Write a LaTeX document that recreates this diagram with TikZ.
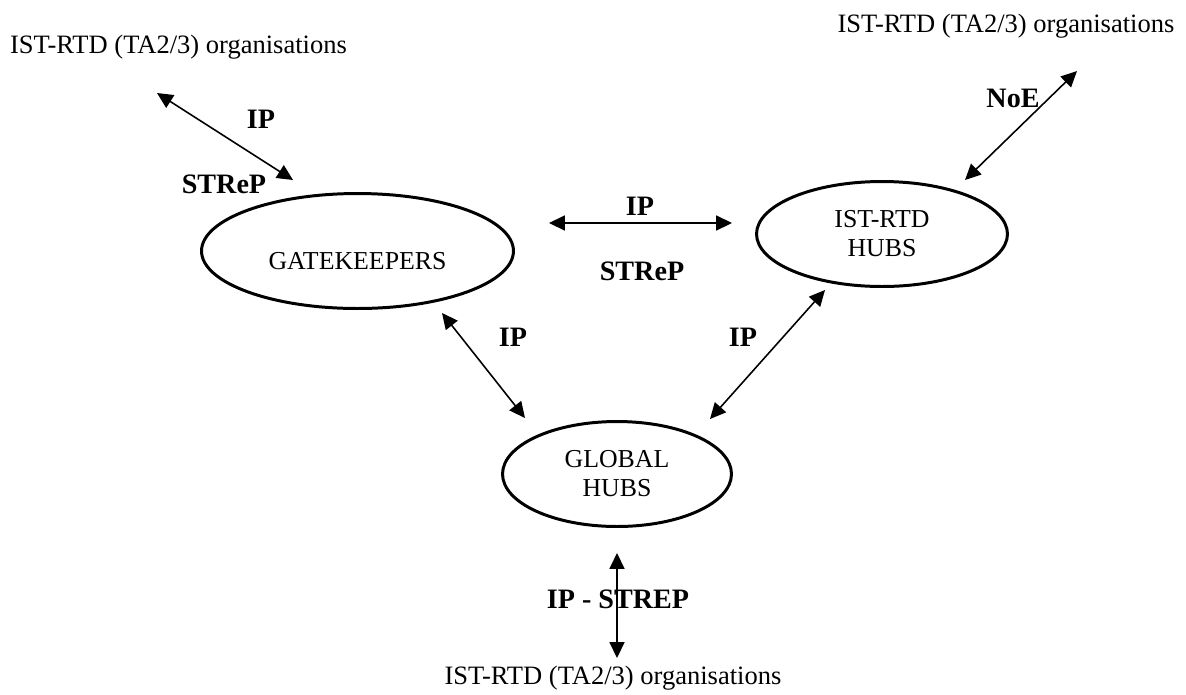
\documentclass[tikz,border=0pt]{standalone}
\usepackage{fontspec}
\setmainfont{Liberation Serif}
\usetikzlibrary{arrows.meta,shapes.geometric}

\begin{document}
\begin{tikzpicture}[x=0.02cm,y=-0.02cm,
  hub/.style={ellipse,draw,line width=1.7pt,inner sep=0pt,align=center,font=\fontsize{14.7}{16.5}\selectfont},
  org/.style={anchor=base,inner sep=0pt,font=\fontsize{15.1}{17}\selectfont},
  lbl/.style={anchor=base,inner sep=0pt,font=\fontsize{16}{18}\selectfont\bfseries},
  link/.style={{Triangle[length=9pt,width=8.5pt]}-{Triangle[length=9pt,width=8.5pt]},line width=0.9pt}]
\useasboundingbox (0,0) rectangle (1186,694);
\node [hub,minimum width=6.24cm,minimum height=2.3cm,text height=21pt] (gk) at (357.5,251) {GATEKEEPERS};
\node [hub,minimum width=5.02cm,minimum height=2.1cm] (ist) at (882,234) {IST-RTD\\HUBS};
\node [hub,minimum width=4.58cm,minimum height=2.1cm] (glob) at (617,474) {GLOBAL\\HUBS};
\node [org] (orgl) at (178.5,53) {IST-RTD (TA2/3) organisations};
\node [org] (orgr) at (1006,32) {IST-RTD (TA2/3) organisations};
\node [org] (orgb) at (613,684) {IST-RTD (TA2/3) organisations};
\coordinate (tl1) at (157,93);
\coordinate (tl2) at (293,180);
\coordinate (tr1) at (1077,71);
\coordinate (tr2) at (965,180);
\coordinate (gi1) at (549,223);
\coordinate (gi2) at (732,223);
\coordinate (gg1) at (442,313);
\coordinate (gg2) at (525,418);
\coordinate (ig1) at (825,290);
\coordinate (ig2) at (710,419);
\coordinate (bt1) at (617,553);
\coordinate (bt2) at (617,658);
\draw [link] (tl1) -- (tl2);
\draw [link] (tr1) -- (tr2);
\draw [link] (gi1) -- (gi2);
\draw [link] (gg1) -- (gg2);
\draw [link] (ig1) -- (ig2);
\draw [link] (bt1) -- (bt2);
\node [lbl] (ipa) at (261,128) {IP};
\node [lbl] (strepa) at (224,193) {STReP};
\node [lbl] (noe) at (1013,107) {NoE};
\node [lbl] (ipb) at (640,215) {IP};
\node [lbl] (strepb) at (642,280) {STReP};
\node [lbl] (ipc) at (513,346) {IP};
\node [lbl] (ipd) at (743,346) {IP};
\node [lbl] (ipstrep) at (618,608) {IP - STREP};
\end{tikzpicture}
\end{document}
